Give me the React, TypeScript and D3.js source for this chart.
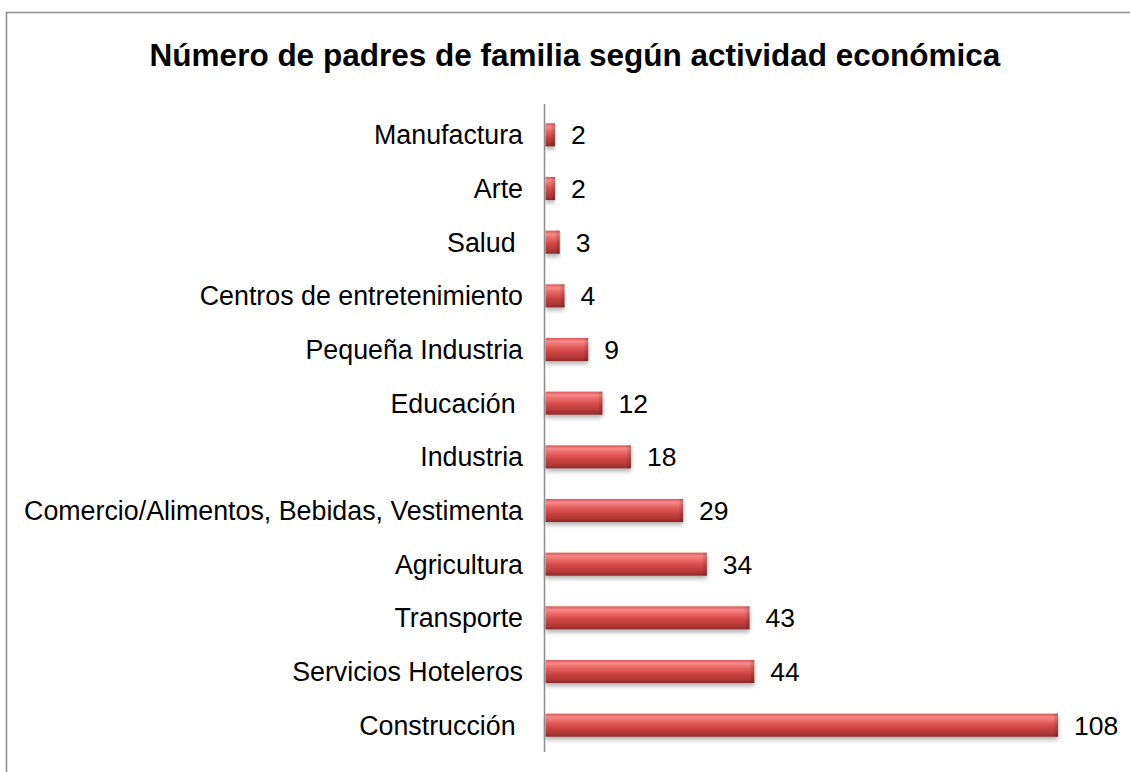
import React from "react";
import * as d3 from "d3";

const categories = [
  "Manufactura",
  "Arte",
  "Salud ",
  "Centros de entretenimiento",
  "Pequeña Industria",
  "Educación ",
  "Industria",
  "Comercio/Alimentos, Bebidas, Vestimenta",
  "Agricultura",
  "Transporte",
  "Servicios Hoteleros",
  "Construcción ",
];
const values = [2, 2, 3, 4, 9, 12, 18, 29, 34, 43, 44, 108];
const title = "Número de padres de familia según actividad económica";

const W = 1130;
const H = 772;
const axisX = 544.5;

export default function App() {
  const x = d3.scaleLinear().domain([0, 108]).range([axisX + 1, 1058]);
  const y = d3.scaleBand<string>().domain(categories).range([108, 752]).paddingInner(0.57).paddingOuter(0.285);
  const font = "'Liberation Sans', Arial, sans-serif";
  return (
    <svg width={W} height={H} style={{ position: "absolute", left: 0, top: 0, background: "#fff" }}>
      <defs>
        <linearGradient id="barg" x1="0" y1="0" x2="0" y2="1">
          <stop offset="0" stopColor="#d85a5a" />
          <stop offset="0.15" stopColor="#f78888" />
          <stop offset="0.35" stopColor="#e86464" />
          <stop offset="0.6" stopColor="#cf4444" />
          <stop offset="0.85" stopColor="#b03636" />
          <stop offset="1" stopColor="#8c2a2a" />
        </linearGradient>
        <linearGradient id="endg" x1="0" y1="0" x2="1" y2="0">
          <stop offset="0" stopColor="#000" stopOpacity="0" />
          <stop offset="1" stopColor="#000" stopOpacity="0.2" />
        </linearGradient>
        <filter id="sh" x="-5%" y="-30%" width="110%" height="180%">
          <feDropShadow dx="0" dy="3" stdDeviation="2" floodColor="#000" floodOpacity="0.3" />
        </filter>
      </defs>
      <rect x={6.5} y={12.5} width={W + 10} height={H + 10} fill="#fff" stroke="#8c8c8c" strokeWidth={1.5} />
      <text x={575} y={66} textAnchor="middle" fontFamily={font} fontWeight="bold" fontSize={31.5} fill="#000">
        {title}
      </text>
      {categories.map((c, i) => {
        const y0 = y(c)!;
        const bw = y.bandwidth();
        const x0 = x(0);
        const x1 = x(values[i]);
        const cy = y0 + bw / 2;
        return (
          <g key={c}>
            <rect x={x0} y={y0} width={x1 - x0} height={bw} fill="url(#barg)" filter="url(#sh)" />
            <rect x={Math.max(x0, x1 - 5)} y={y0} width={Math.min(5, x1 - x0)} height={bw} fill="url(#endg)" />
            <text
              x={523}
              y={cy}
              dy="0.36em"
              textAnchor="end"
              fontFamily={font}
              fontSize={26.8}
              fill="#000"
              style={{ whiteSpace: "pre" }}
            >
              {c}
            </text>
            <text x={x1 + 16} y={cy} dy="0.36em" fontFamily={font} fontSize={26.5} fill="#000">
              {values[i]}
            </text>
          </g>
        );
      })}
      <line x1={axisX} x2={axisX} y1={104} y2={752} stroke="#8c8c8c" strokeWidth={1.5} />
    </svg>
  );
}
